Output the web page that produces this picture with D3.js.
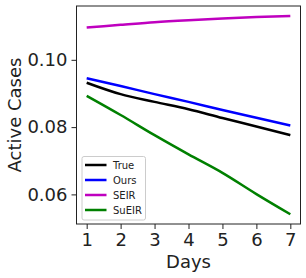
<!DOCTYPE html>
<html>
<head>
<meta charset="utf-8">
<script src="https://cdn.jsdelivr.net/npm/d3@7"></script>
<style>
  body { margin: 0; background: white; }
  text { font-family: "DejaVu Sans", sans-serif; }
</style>
</head>
<body>
<div id="plot"></div>
<script>
// Data
const days = [1, 2, 3, 4, 5, 6, 7];
const trueCases = [0.0932, 0.0898, 0.0875, 0.0853, 0.0827, 0.0802, 0.0776];
const oursCases = [0.0945, 0.0922, 0.0898, 0.0875, 0.0851, 0.0828, 0.0805];
const seirCases = [0.1096, 0.1104, 0.1112, 0.1118, 0.1123, 0.1127, 0.1130];
const sueirCases = [0.0893, 0.0836, 0.0776, 0.0719, 0.0664, 0.0601, 0.0541];
const seriesNames = ["True", "Ours", "SEIR", "SuEIR"];
const seriesColors = ["#000000", "#0000ff", "#bf00bf", "#008000"];
const yTicks = [0.06, 0.08, 0.10];

const allSeries = [trueCases, oursCases, seirCases, sueirCases];

const W = 306, H = 278;
const margin = { top: 6, right: 5.5, bottom: 54, left: 76.5 };

const svg = d3.select("#plot").append("svg")
    .attr("width", W)
    .attr("height", H);

const x = d3.scaleLinear()
    .domain([0.7, 7.3])
    .range([margin.left, W - margin.right]);

const y = d3.scaleLinear()
    .domain([0.0512, 0.1160])
    .range([H - margin.bottom, margin.top]);

// Lines
const line = d3.line()
    .x((d, i) => x(days[i]))
    .y(d => y(d))
    .curve(d3.curveMonotoneX);

allSeries.forEach((s, i) => {
    svg.append("path")
        .datum(s)
        .attr("fill", "none")
        .attr("stroke", seriesColors[i])
        .attr("stroke-width", 2.5)
        .attr("d", line);
});

// Axes
svg.append("g")
    .attr("transform", `translate(0,${H - margin.bottom})`)
    .call(d3.axisBottom(x).tickValues(days).tickSize(5).tickPadding(4).tickFormat(d3.format("d")))
    .call(g => g.select(".domain").remove())
    .call(g => g.selectAll(".tick line").attr("stroke", "#222"))
    .call(g => g.selectAll(".tick text").attr("fill", "#222").style("font-size", "18px"));

svg.append("g")
    .attr("transform", `translate(${margin.left},0)`)
    .call(d3.axisLeft(y).tickValues(yTicks).tickSize(5).tickPadding(4).tickFormat(d3.format(".2f")))
    .call(g => g.select(".domain").remove())
    .call(g => g.selectAll(".tick line").attr("stroke", "#222"))
    .call(g => g.selectAll(".tick text").attr("fill", "#222").style("font-size", "18px"));

// Frame
svg.append("rect")
    .attr("x", margin.left)
    .attr("y", margin.top)
    .attr("width", W - margin.left - margin.right)
    .attr("height", H - margin.top - margin.bottom)
    .attr("fill", "none")
    .attr("stroke", "#222")
    .attr("stroke-width", 1);

// Axis labels
svg.append("text")
    .attr("x", (margin.left + W - margin.right) / 2)
    .attr("y", 268)
    .attr("text-anchor", "middle")
    .attr("fill", "#222")
    .style("font-size", "18px")
    .text("Days");

svg.append("text")
    .attr("transform", `translate(21,${(margin.top + H - margin.bottom) / 2}) rotate(-90)`)
    .attr("text-anchor", "middle")
    .attr("fill", "#222")
    .style("font-size", "18px")
    .text("Active Cases");

// Legend
const legend = svg.append("g").attr("transform", "translate(82,156.5)");
legend.append("rect")
    .attr("width", 63.5)
    .attr("height", 63.5)
    .attr("rx", 2)
    .attr("fill", "white")
    .attr("fill-opacity", 0.8)
    .attr("stroke", "#ccc");

seriesNames.forEach((name, i) => {
    const ly = 8.5 + i * 15;
    legend.append("line")
        .attr("x1", 3).attr("x2", 24.5)
        .attr("y1", ly).attr("y2", ly)
        .attr("stroke", seriesColors[i])
        .attr("stroke-width", 2.5);
    legend.append("text")
        .attr("x", 31)
        .attr("y", ly + 3.5)
        .attr("fill", "#222")
        .style("font-size", "10px")
        .text(name);
});
</script>
</body>
</html>
